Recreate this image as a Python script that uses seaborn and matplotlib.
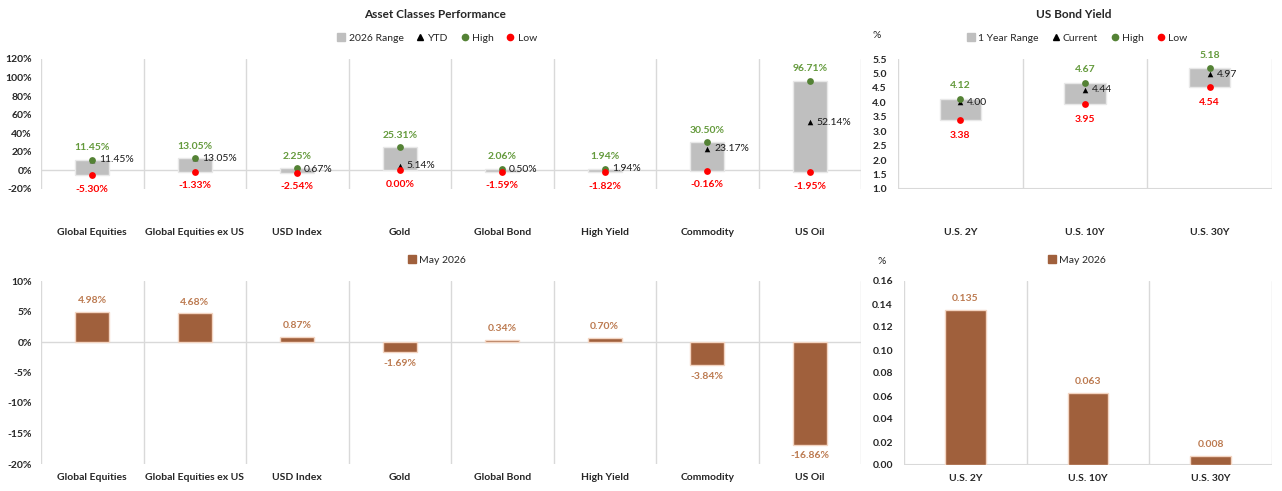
import numpy as np
import pandas as pd
import matplotlib
matplotlib.use("Agg")
import matplotlib.pyplot as plt
from matplotlib.lines import Line2D
import seaborn as sns

# ---- data ----
assets = ["Global Equities", "Global Equities ex US", "USD Index", "Gold",
          "Global Bond", "High Yield", "Commodity", "US Oil"]
asset_high = [11.45, 13.05, 2.25, 25.31, 2.06, 1.94, 30.50, 96.71]
asset_low = [-5.30, -1.33, -2.54, 0.00, -1.59, -1.82, -0.16, -1.95]
asset_ytd = [11.45, 13.05, 0.67, 5.14, 0.50, 1.94, 23.17, 52.14]
asset_may = [4.98, 4.68, 0.87, -1.69, 0.34, 0.70, -3.84, -16.86]

bonds = ["U.S. 2Y", "U.S. 10Y", "U.S. 30Y"]
bond_high = [4.12, 4.67, 5.18]
bond_low = [3.38, 3.95, 4.54]
bond_current = [4.00, 4.44, 4.97]
bond_may = [0.135, 0.063, 0.008]

# ---- style ----
sns.set_theme(style="white")
plt.rcParams['font.family'] = ['Lato', 'DejaVu Sans']

GRAY = '#BFBFBF'
GRID = '#D9D9D9'
GREEN = '#548235'
GREEN_TXT = '#649A3C'
RED = '#FF0000'
BROWN = '#A0603C'
BROWN_TXT = '#BC7A50'
FS = 7.5

W, H = 1282, 491
fig = plt.figure(figsize=(W / 100, H / 100), dpi=100)


def px_axes(l, t, r, b):
    return fig.add_axes([l / W, 1 - b / H, (r - l) / W, (b - t) / H])


def style_axes(ax, n, labels, xpad, ypad):
    ax.set_xlim(-0.5, n - 0.5)
    ax.set_xticks(np.arange(n))
    ax.set_xticklabels(labels, fontsize=FS, fontweight='bold')
    ax.set_xticks(np.arange(n + 1) - 0.5, minor=True)
    ax.grid(False)
    ax.grid(which='minor', axis='x', color=GRID, lw=1)
    ax.tick_params(which='both', length=0)
    ax.tick_params(axis='x', pad=xpad)
    ax.tick_params(axis='y', pad=ypad, labelsize=FS)
    for lab in ax.get_yticklabels():
        lab.set_fontweight('bold')
    for s in ax.spines.values():
        s.set_visible(False)
    ax.set_xlabel('')
    ax.set_ylabel('')


def range_panel(ax, cats, high, low, mid, fmt, hi_off, lo_off):
    high = np.array(high)
    low = np.array(low)
    sns.barplot(x=cats, y=high - low, bottom=low, color=GRAY, width=0.33,
                edgecolor='#E8E8E8', linewidth=1, errorbar=None, ax=ax,
                saturation=1)
    sns.scatterplot(x=cats, y=mid, marker='^', color='black', s=16,
                    linewidth=0, ax=ax, zorder=3)
    sns.scatterplot(x=cats, y=high, color=GREEN, s=24, linewidth=0, ax=ax, zorder=4)
    sns.scatterplot(x=cats, y=low, color=RED, s=24, linewidth=0, ax=ax, zorder=4)
    for i in range(len(cats)):
        ax.annotate(fmt(high[i]), (i, high[i]), xytext=(0, hi_off),
                    textcoords='offset points', ha='center', va='center',
                    color=GREEN_TXT, fontsize=FS, fontweight='bold')
        ax.annotate(fmt(low[i]), (i, low[i]), xytext=(0, -lo_off),
                    textcoords='offset points', ha='center', va='center',
                    color=RED, fontsize=FS, fontweight='bold')
        ax.annotate(fmt(mid[i]), (i, mid[i]), xytext=(5, 0),
                    textcoords='offset points', ha='left', va='center',
                    color='#1A1A1A', fontsize=FS)


def bar_panel(ax, cats, vals, fmt):
    sns.barplot(x=cats, y=vals, color=BROWN, width=0.33, edgecolor='#F3D5C2',
                linewidth=1, errorbar=None, ax=ax, saturation=1)
    for i, v in enumerate(vals):
        off = 8 if v >= 0 else -8
        ax.annotate(fmt(v), (i, v), xytext=(0, off), textcoords='offset points',
                    ha='center', va='center', color=BROWN_TXT, fontsize=FS,
                    fontweight='bold')


pct = lambda v: f"{v:.2f}%"

# ---- top left: asset classes range ----
ax1 = px_axes(41, 59, 861, 189)
range_panel(ax1, assets, asset_high, asset_low, asset_ytd, pct, 8.5, 10)
ax1.set_ylim(-20, 120)
ax1.set_yticks(np.arange(-20, 121, 20))
ax1.set_yticklabels([f"{v}%" for v in range(-20, 121, 20)])
ax1.axhline(0, color=GRID, lw=1, zorder=0.5)
style_axes(ax1, len(assets), assets, 28, 6.5)

# ---- top right: bond yield range ----
ax2 = px_axes(898, 59, 1272, 189)
range_panel(ax2, bonds, bond_high, bond_low, bond_current, lambda v: f"{v:.2f}", 9.5, 11)
ax2.set_ylim(1.0, 5.5)
ticks = np.arange(1.0, 5.51, 0.5)
ax2.set_yticks(ticks)
ax2.set_yticklabels([f"{t:.1f}" for t in ticks])
ax2.axhline(1.0, color=GRID, lw=1.5, zorder=0.5)
style_axes(ax2, len(bonds), bonds, 28, 8)

# ---- bottom left: May returns ----
ax3 = px_axes(41, 281, 861, 464)
bar_panel(ax3, assets, asset_may, pct)
ax3.set_ylim(-20, 10)
ax3.set_yticks(np.arange(-20, 11, 5))
ax3.set_yticklabels([f"{v}%" for v in range(-20, 11, 5)])
ax3.axhline(0, color=GRID, lw=1, zorder=0.5)
style_axes(ax3, len(assets), assets, 6.5, 6.5)

# ---- bottom right: May bond change ----
ax4 = px_axes(904, 281, 1272, 465)
bar_panel(ax4, bonds, bond_may, lambda v: f"{v:.3f}")
ax4.set_ylim(0, 0.16)
ticks = np.arange(0, 0.161, 0.02)
ax4.set_yticks(ticks)
ax4.set_yticklabels([f"{t:.2f}" for t in ticks])
ax4.axhline(0, color=GRID, lw=1.5, zorder=0.5)
style_axes(ax4, len(bonds), bonds, 6.5, 8)

# ---- titles, legends, unit labels ----
fig.text(435 / W, 1 - 15 / H, "Asset Classes Performance", ha='center', va='center',
         fontsize=8.5, fontweight='bold')
fig.text(1074 / W, 1 - 15 / H, "US Bond Yield", ha='center', va='center',
         fontsize=8.5, fontweight='bold')
fig.text(877 / W, 1 - 35 / H, "%", ha='center', va='center', fontsize=FS)
fig.text(882 / W, 1 - 262 / H, "%", ha='center', va='center', fontsize=FS)


def range_handles():
    return [Line2D([], [], ls='', marker='s', color=GRAY, ms=6),
            Line2D([], [], ls='', marker='^', color='black', ms=4),
            Line2D([], [], ls='', marker='o', color=GREEN, ms=4.5),
            Line2D([], [], ls='', marker='o', color=RED, ms=4.5)]


leg_kw = dict(loc='center', frameon=False, fontsize=FS, handlelength=0.8,
              handletextpad=0.3, columnspacing=1.2, borderpad=0)
fig.legend(range_handles(), ["2026 Range", "YTD", "High", "Low"], ncol=4,
           bbox_to_anchor=(437 / W, 1 - 38 / H), **leg_kw)
fig.legend(range_handles(), ["1 Year Range", "Current", "High", "Low"], ncol=4,
           bbox_to_anchor=(1077 / W, 1 - 38 / H), **leg_kw)
may_handle = [Line2D([], [], ls='', marker='s', color=BROWN, ms=6)]
fig.legend(may_handle, ["May 2026"], bbox_to_anchor=(437 / W, 1 - 260 / H), **leg_kw)
fig.legend(may_handle, ["May 2026"], bbox_to_anchor=(1077 / W, 1 - 260 / H), **leg_kw)

fig.savefig("out.png", dpi=100)
